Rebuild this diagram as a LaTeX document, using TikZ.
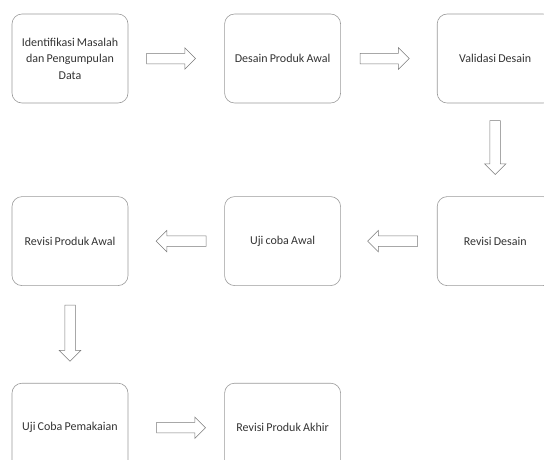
\documentclass[tikz,border=0pt]{standalone}
\usepackage{fontspec}
\setmainfont[WordSpace=0.8]{Carlito}
\usepackage{tikz}
\usetikzlibrary{shapes.arrows, positioning}

\definecolor{boxline}{HTML}{9A9A9A}
\definecolor{arrline}{HTML}{7A7A7A}
\definecolor{txt}{HTML}{333333}

\begin{document}
\begin{tikzpicture}[font=\fontsize{12}{16.5}\selectfont, text=txt]
		\tikzstyle{stage} = [rectangle, rounded corners=10pt, minimum width=116pt, minimum height=89pt, align=center, draw=boxline, line width=0.6pt]
		
		\tikzstyle{blockarrow} = [single arrow, draw=arrline, fill=white, line width=0.5pt, inner sep=5pt, single arrow head extend=5.5pt, single arrow head indent=0pt, minimum height=49pt, anchor=tail]
		
		% Picture frame
		\clip (0,0) rectangle (544pt,-459pt);
		
		% Row 1 nodes
		\node (idm) [stage] at (70pt,-58.5pt) {Identifikasi Masalah\\ dan Pengumpulan\\ Data};
		\node (dpa) [stage, right=96pt of idm] {Desain Produk Awal};
		\node (vd) [stage, right=96pt of dpa] {Validasi Desain};
		
		% Row 2 nodes
		\node (rd) [stage, below=93pt of vd] {Revisi Desain};
		\node (uca) [stage, left=96pt of rd] {Uji coba Awal};
		\node (rpa) [stage, left=96pt of uca] {Revisi Produk Awal};
		
		% Row 3 nodes
		\node (ucp) [stage, below=97pt of rpa] {Uji Coba Pemakaian};
		\node (rpak) [stage, right=96pt of ucp] {Revisi Produk Akhir};
		
		% Arrows
		\node (a1) [blockarrow] at ([xshift=18pt]idm.east) {};
		\node (a2) [blockarrow] at ([xshift=19pt]dpa.east) {};
		\node (a3) [blockarrow, shape border rotate=270, minimum height=54pt] at ([yshift=-17pt]vd.south) {};
		\node (a4) [blockarrow, shape border rotate=180, minimum height=50pt] at ([xshift=-19pt]rd.west) {};
		\node (a5) [blockarrow, shape border rotate=180, minimum height=50pt] at ([xshift=-18pt]uca.west) {};
		\node (a6) [blockarrow, shape border rotate=270, minimum height=56pt] at ([yshift=-19pt]rpa.south) {};
		\node (a7) [blockarrow] at ([xshift=28pt]ucp.east) {};
	\end{tikzpicture}
\end{document}
